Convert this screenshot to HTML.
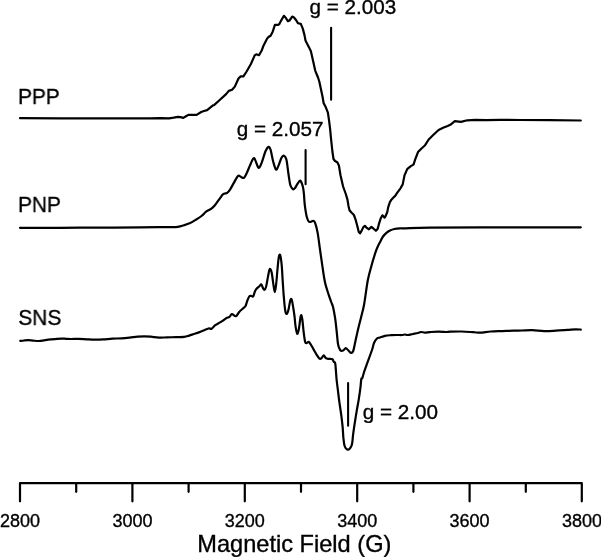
<!DOCTYPE html>
<html><head><meta charset="utf-8"><style>
html,body{margin:0;padding:0;background:#fff;}
svg{display:block;will-change:transform;}
text{font-family:"Liberation Sans",sans-serif;fill:#000;stroke:#000;stroke-width:0.35px;}
.t{opacity:0.999;}
</style></head><body>
<svg width="601" height="557" viewBox="0 0 601 557">
<rect width="601" height="557" fill="#fff"/>
<g fill="none" stroke="#000" stroke-width="2.2" stroke-linejoin="round" stroke-linecap="round">
<polyline points="20.0,118.2 60.0,118.3 100.0,118.4 150.0,118.4 160.0,118.1 169.1,118.3 173.7,117.6 177.8,116.8 180.5,117.1 183.3,117.9 186.0,116.2 188.4,114.9 196.6,114.9 201.2,112.0 204.0,111.0 207.1,110.1 209.9,107.8 212.6,105.6 214.3,104.9 219.7,100.0 226.1,94.1 228.8,90.9 232.1,89.8 234.8,86.6 238.5,78.5 240.7,76.4 243.4,76.4 246.6,71.5 250.9,64.0 254.7,55.4 256.3,54.3 259.0,55.2 261.7,50.5 263.6,45.4 266.9,38.9 268.5,37.0 270.6,35.7 272.8,31.4 274.9,24.9 278.2,24.9 279.5,23.8 281.4,20.1 283.9,15.8 285.5,17.5 287.9,21.2 289.5,20.5 292.2,16.6 294.0,17.5 296.0,20.0 298.1,23.3 300.8,23.9 302.8,28.6 304.5,35.1 305.5,40.5 307.0,43.5 308.8,46.9 310.9,51.3 313.1,61.0 315.2,70.6 318.0,77.5 319.3,81.5 320.9,89.0 322.5,96.5 323.6,103.0 325.8,107.3 327.9,112.7 329.0,120.2 330.1,128.8 330.9,137.5 332.4,151.5 333.5,159.0 335.0,161.0 337.3,162.3 338.9,165.5 340.5,175.2 343.1,186.5 345.8,194.0 347.4,199.4 348.5,205.9 349.5,210.2 351.2,212.3 353.9,215.0 355.5,219.3 357.1,225.2 358.7,231.7 360.0,233.3 361.7,230.6 363.2,227.4 364.9,225.8 366.8,227.9 368.9,229.3 371.4,226.9 373.6,228.7 375.9,230.8 377.6,229.0 379.2,223.1 380.8,218.2 382.4,215.3 384.6,217.7 385.6,216.1 387.2,212.3 388.3,206.9 389.9,202.1 391.6,199.4 393.7,197.2 395.0,196.2 397.3,192.7 400.5,188.3 402.7,184.4 404.5,175.4 407.2,169.1 410.8,166.1 413.5,164.6 415.3,159.2 418.0,152.1 421.5,148.5 425.1,145.2 428.7,139.5 433.2,135.0 438.6,130.0 443.1,127.8 447.6,126.0 450.3,124.8 454.8,121.2 461.0,121.9 467.3,120.3 475.4,119.9 486.2,120.1 500.0,119.9 520.0,120.0 550.0,120.2 580.8,120.5"/>
<path d="M20.00,227.80 C26.67,227.80 46.67,227.83 60.00,227.80 C73.33,227.77 86.67,227.67 100.00,227.60 C113.33,227.53 130.00,227.47 140.00,227.40 C150.00,227.33 154.68,227.23 160.00,227.20 C165.32,227.17 168.93,227.27 171.90,227.20 C174.87,227.13 175.83,227.12 177.80,226.80 C179.77,226.48 181.73,225.88 183.70,225.30 C185.67,224.72 187.62,224.20 189.60,223.30 C191.58,222.40 193.62,221.12 195.60,219.90 C197.58,218.68 199.70,217.42 201.50,216.00 C203.30,214.58 204.75,212.62 206.40,211.40 C208.05,210.18 209.92,209.82 211.40,208.70 C212.88,207.58 213.98,206.28 215.30,204.70 C216.62,203.12 217.98,200.95 219.30,199.20 C220.62,197.45 221.88,195.27 223.20,194.20 C224.52,193.13 226.03,193.62 227.20,192.80 C228.37,191.98 229.05,191.03 230.20,189.30 C231.35,187.57 232.78,184.65 234.10,182.40 C235.42,180.15 236.95,176.70 238.10,175.80 C239.25,174.90 240.02,176.67 241.00,177.00 C241.98,177.33 243.00,178.55 244.00,177.80 C245.00,177.05 246.02,174.53 247.00,172.50 C247.98,170.47 248.87,167.90 249.90,165.60 C250.93,163.30 252.37,159.77 253.20,158.70 C254.03,157.63 254.13,157.88 254.90,159.20 C255.67,160.52 257.05,165.22 257.80,166.60 C258.55,167.98 258.75,168.17 259.40,167.50 C260.05,166.83 260.65,165.38 261.70,162.60 C262.75,159.82 264.53,153.43 265.70,150.80 C266.87,148.17 267.88,146.97 268.70,146.80 C269.52,146.63 269.85,147.33 270.60,149.80 C271.35,152.27 272.30,158.32 273.20,161.60 C274.10,164.88 275.12,168.83 276.00,169.50 C276.88,170.17 277.58,167.57 278.50,165.60 C279.42,163.63 280.60,159.35 281.50,157.70 C282.40,156.05 283.08,155.38 283.90,155.70 C284.72,156.02 285.65,156.63 286.40,159.60 C287.15,162.57 287.73,169.22 288.40,173.50 C289.07,177.78 289.63,182.67 290.40,185.30 C291.17,187.93 292.23,188.85 293.00,189.30 C293.77,189.75 294.30,188.82 295.00,188.00 C295.70,187.18 296.45,185.57 297.20,184.40 C297.95,183.23 298.90,181.53 299.50,181.00 C300.10,180.47 300.35,180.63 300.80,181.20 C301.25,181.77 301.78,183.12 302.20,184.40 C302.62,185.68 303.00,187.13 303.30,188.90 C303.60,190.67 303.75,192.30 304.00,195.00 C304.25,197.70 304.33,201.43 304.80,205.10 C305.27,208.77 306.07,214.20 306.80,217.00 C307.53,219.80 308.15,221.25 309.20,221.90 C310.25,222.55 312.12,220.73 313.10,220.90 C314.08,221.07 314.35,220.95 315.10,222.90 C315.85,224.85 316.77,228.05 317.60,232.60 C318.43,237.15 319.27,244.35 320.10,250.20 C320.93,256.05 321.77,262.27 322.60,267.70 C323.43,273.13 324.05,278.18 325.10,282.80 C326.15,287.42 327.88,292.20 328.90,295.40 C329.92,298.60 330.50,300.03 331.20,302.00 C331.90,303.97 332.43,304.42 333.10,307.20 C333.77,309.98 334.60,314.63 335.20,318.70 C335.80,322.77 336.22,327.30 336.70,331.60 C337.18,335.90 337.50,341.38 338.10,344.50 C338.70,347.62 339.47,349.28 340.30,350.30 C341.13,351.32 342.20,350.97 343.10,350.60 C344.00,350.23 344.85,348.15 345.70,348.10 C346.55,348.05 347.32,349.50 348.20,350.30 C349.08,351.10 350.17,352.78 351.00,352.90 C351.83,353.02 352.48,352.87 353.20,351.00 C353.92,349.13 354.47,345.42 355.30,341.70 C356.13,337.98 357.23,332.78 358.20,328.70 C359.17,324.62 360.12,321.23 361.10,317.20 C362.08,313.17 362.98,310.65 364.10,304.50 C365.22,298.35 366.55,286.85 367.80,280.30 C369.05,273.75 370.33,269.80 371.60,265.20 C372.87,260.60 374.40,255.73 375.40,252.70 C376.40,249.67 376.77,248.88 377.60,247.00 C378.43,245.12 379.50,243.15 380.40,241.40 C381.30,239.65 381.95,237.97 383.00,236.50 C384.05,235.03 385.53,233.60 386.70,232.60 C387.87,231.60 388.72,231.10 390.00,230.50 C391.28,229.90 392.73,229.37 394.40,229.00 C396.07,228.63 398.17,228.42 400.00,228.30 C401.83,228.18 400.40,228.42 405.40,228.30 C410.40,228.18 414.23,227.77 430.00,227.60 C445.77,227.43 474.87,227.35 500.00,227.30 C525.13,227.25 567.33,227.30 580.80,227.30"/>
<path d="M20.30,340.90 C20.92,340.83 22.67,340.62 24.00,340.50 C25.33,340.38 26.80,340.18 28.30,340.20 C29.80,340.22 31.22,340.47 33.00,340.60 C34.78,340.73 37.17,341.05 39.00,341.00 C40.83,340.95 42.45,340.52 44.00,340.30 C45.55,340.08 46.47,339.90 48.30,339.70 C50.13,339.50 52.78,339.28 55.00,339.10 C57.22,338.92 59.77,338.65 61.60,338.60 C63.43,338.55 64.45,338.73 66.00,338.80 C67.55,338.87 68.75,338.98 70.90,339.00 C73.05,339.02 76.23,338.85 78.90,338.90 C81.57,338.95 84.22,339.18 86.90,339.30 C89.58,339.42 92.32,339.58 95.00,339.60 C97.68,339.62 100.12,339.55 103.00,339.40 C105.88,339.25 109.20,338.88 112.30,338.70 C115.40,338.52 118.72,338.48 121.60,338.30 C124.48,338.12 126.93,337.87 129.60,337.60 C132.27,337.33 135.15,336.92 137.60,336.70 C140.05,336.48 142.08,336.30 144.30,336.30 C146.52,336.30 148.47,336.48 150.90,336.70 C153.33,336.92 156.23,337.48 158.90,337.60 C161.57,337.72 164.02,337.48 166.90,337.40 C169.78,337.32 173.32,337.18 176.20,337.10 C179.08,337.02 182.05,337.15 184.20,336.90 C186.35,336.65 187.48,336.08 189.10,335.60 C190.72,335.12 192.28,334.53 193.90,334.00 C195.52,333.47 197.18,333.00 198.80,332.40 C200.42,331.80 201.98,331.05 203.60,330.40 C205.22,329.75 207.15,328.78 208.50,328.50 C209.85,328.22 210.63,329.22 211.70,328.70 C212.77,328.18 213.82,326.27 214.90,325.40 C215.98,324.53 216.98,324.22 218.20,323.50 C219.42,322.78 220.87,321.98 222.20,321.10 C223.53,320.22 224.98,318.90 226.20,318.20 C227.42,317.50 228.55,317.58 229.50,316.90 C230.45,316.22 230.83,314.22 231.90,314.10 C232.97,313.98 234.68,316.55 235.90,316.20 C237.12,315.85 238.03,313.28 239.20,312.00 C240.37,310.72 241.85,309.50 242.90,308.50 C243.95,307.50 244.78,307.25 245.50,306.00 C246.22,304.75 246.57,302.60 247.20,301.00 C247.83,299.40 248.58,297.23 249.30,296.40 C250.02,295.57 250.85,296.00 251.50,296.00 C252.15,296.00 252.60,297.23 253.20,296.40 C253.80,295.57 254.43,292.38 255.10,291.00 C255.77,289.62 256.48,288.90 257.20,288.10 C257.92,287.30 258.72,286.80 259.40,286.20 C260.08,285.60 260.70,284.18 261.30,284.50 C261.90,284.82 262.48,287.22 263.00,288.10 C263.52,288.98 263.88,290.03 264.40,289.80 C264.92,289.57 265.50,288.90 266.10,286.70 C266.70,284.50 267.40,279.53 268.00,276.60 C268.60,273.67 269.10,269.82 269.70,269.10 C270.30,268.38 271.00,269.85 271.60,272.30 C272.20,274.75 272.77,280.50 273.30,283.80 C273.83,287.10 274.32,292.10 274.80,292.10 C275.28,292.10 275.73,287.82 276.20,283.80 C276.67,279.78 277.17,272.43 277.60,268.00 C278.03,263.57 278.37,259.35 278.80,257.20 C279.23,255.05 279.72,253.78 280.20,255.10 C280.68,256.42 281.28,260.80 281.70,265.10 C282.12,269.40 282.35,275.63 282.70,280.90 C283.05,286.17 283.38,291.78 283.80,296.70 C284.22,301.62 284.72,307.53 285.20,310.40 C285.68,313.27 286.15,314.03 286.70,313.90 C287.25,313.77 287.90,311.87 288.50,309.60 C289.10,307.33 289.77,301.97 290.30,300.30 C290.83,298.63 291.20,298.32 291.70,299.60 C292.20,300.88 292.82,305.10 293.30,308.00 C293.78,310.90 294.23,314.02 294.60,317.00 C294.97,319.98 295.07,323.10 295.50,325.90 C295.93,328.70 296.63,333.33 297.20,333.80 C297.77,334.27 298.30,331.70 298.90,328.70 C299.50,325.70 300.25,317.47 300.80,315.80 C301.35,314.13 301.73,316.07 302.20,318.70 C302.67,321.33 303.12,327.77 303.60,331.60 C304.08,335.43 304.62,339.78 305.10,341.70 C305.58,343.62 305.90,343.07 306.50,343.10 C307.10,343.13 307.98,341.67 308.70,341.90 C309.42,342.13 309.97,343.22 310.80,344.50 C311.63,345.78 312.73,347.92 313.70,349.60 C314.67,351.28 315.65,353.10 316.60,354.60 C317.55,356.10 318.57,358.00 319.40,358.60 C320.23,359.20 320.87,358.75 321.60,358.20 C322.33,357.65 323.08,355.30 323.80,355.30 C324.52,355.30 325.07,357.60 325.90,358.20 C326.73,358.80 327.72,358.73 328.80,358.90 C329.88,359.07 331.57,358.72 332.40,359.20 C333.23,359.68 333.33,361.13 333.80,361.80 C334.27,362.47 334.83,361.53 335.20,363.20 C335.57,364.87 335.77,369.05 336.00,371.80 C336.23,374.55 336.30,376.77 336.60,379.70 C336.90,382.63 337.33,385.63 337.80,389.40 C338.27,393.17 338.82,397.98 339.40,402.30 C339.98,406.62 340.77,411.25 341.30,415.30 C341.83,419.35 342.25,422.83 342.60,426.60 C342.95,430.37 343.07,434.67 343.40,437.90 C343.73,441.13 343.97,444.07 344.60,446.00 C345.23,447.93 346.32,449.10 347.20,449.50 C348.08,449.90 349.10,449.27 349.90,448.40 C350.70,447.53 351.47,446.60 352.00,444.30 C352.53,442.00 352.65,438.10 353.10,434.60 C353.55,431.10 354.08,427.33 354.70,423.30 C355.32,419.27 356.12,414.43 356.80,410.40 C357.48,406.37 358.20,402.87 358.80,399.10 C359.40,395.33 359.98,391.15 360.40,387.80 C360.82,384.45 360.98,380.62 361.30,379.00 C361.62,377.38 361.82,379.33 362.30,378.10 C362.78,376.87 363.33,374.22 364.20,371.60 C365.07,368.98 366.20,366.00 367.50,362.40 C368.80,358.80 370.92,353.23 372.00,350.00 C373.08,346.77 373.17,344.92 374.00,343.00 C374.83,341.08 376.00,339.42 377.00,338.50 C378.00,337.58 378.67,337.95 380.00,337.50 C381.33,337.05 383.17,336.18 385.00,335.80 C386.83,335.42 389.00,335.33 391.00,335.20 C393.00,335.07 395.18,335.03 397.00,335.00 C398.82,334.97 400.58,335.08 401.90,335.00 C403.22,334.92 403.90,334.50 404.90,334.50 C405.90,334.50 406.57,335.08 407.90,335.00 C409.23,334.92 411.23,334.33 412.90,334.00 C414.57,333.67 416.57,333.33 417.90,333.00 C419.23,332.67 419.72,332.07 420.90,332.00 C422.08,331.93 423.50,332.58 425.00,332.60 C426.50,332.62 427.70,332.27 429.90,332.10 C432.10,331.93 435.43,331.62 438.20,331.60 C440.97,331.58 444.53,331.98 446.50,332.00 C448.47,332.02 447.48,331.78 450.00,331.70 C452.52,331.62 457.72,331.42 461.60,331.50 C465.48,331.58 470.18,332.00 473.30,332.20 C476.42,332.40 477.38,332.82 480.30,332.70 C483.22,332.58 487.12,331.77 490.80,331.50 C494.48,331.23 498.52,331.23 502.40,331.10 C506.28,330.97 510.83,330.80 514.10,330.70 C517.37,330.60 518.93,330.58 522.00,330.50 C525.07,330.42 528.82,330.10 532.50,330.20 C536.18,330.30 540.22,331.02 544.10,331.10 C547.98,331.18 551.92,330.90 555.80,330.70 C559.68,330.50 564.10,330.13 567.40,329.90 C570.70,329.67 573.37,329.35 575.60,329.30 C577.83,329.25 579.93,329.55 580.80,329.60"/>
</g>
<g stroke="#000" stroke-width="2.1" stroke-linecap="round">
<line x1="331.1" y1="27.7" x2="331.1" y2="99.7"/>
<line x1="305.6" y1="150" x2="305.6" y2="184.3"/>
<line x1="348.1" y1="383.1" x2="348.1" y2="425.8"/>
</g>
<path d="M20,501.3 V483.1 H581.8 V501.3" fill="none" stroke="#000" stroke-width="2.2" stroke-linejoin="round" stroke-linecap="round"/>
<g stroke="#000" stroke-width="2.2" stroke-linecap="round">
<line x1="76.20" y1="483.5" x2="76.20" y2="491.8"/><line x1="132.40" y1="483.5" x2="132.40" y2="501.3"/><line x1="188.60" y1="483.5" x2="188.60" y2="491.8"/><line x1="244.80" y1="483.5" x2="244.80" y2="501.3"/><line x1="301.00" y1="483.5" x2="301.00" y2="491.8"/><line x1="357.20" y1="483.5" x2="357.20" y2="501.3"/><line x1="413.40" y1="483.5" x2="413.40" y2="491.8"/><line x1="469.60" y1="483.5" x2="469.60" y2="501.3"/><line x1="525.80" y1="483.5" x2="525.80" y2="491.8"/>
</g>
<g class="t" font-size="18">
<text x="20.00" y="527.4" text-anchor="middle">2800</text><text x="132.40" y="527.4" text-anchor="middle">3000</text><text x="244.80" y="527.4" text-anchor="middle">3200</text><text x="357.20" y="527.4" text-anchor="middle">3400</text><text x="469.60" y="527.4" text-anchor="middle">3600</text><text x="582.00" y="527.4" text-anchor="middle">3800</text>
</g>
<text class="t" x="199.2" y="552" font-size="23.6" dx="-1.9">Magnetic Field (G)</text>
<g class="t" font-size="21.5">
<g transform="translate(19.8,0) scale(0.972,1) translate(-19.8,0)">
<text x="17.9" y="104">PPP</text>
<text x="17.9" y="212">PNP</text>
<text x="18.3" y="325.4">SNS</text>
</g>
<text x="309.4" y="14.4" font-size="20.7">g = 2.003</text>
<text x="236.7" y="136" font-size="20.7">g = 2.057</text>
<text x="362.7" y="418.6" font-size="20.7">g = 2.00</text>
</g>
</svg>
</body></html>
